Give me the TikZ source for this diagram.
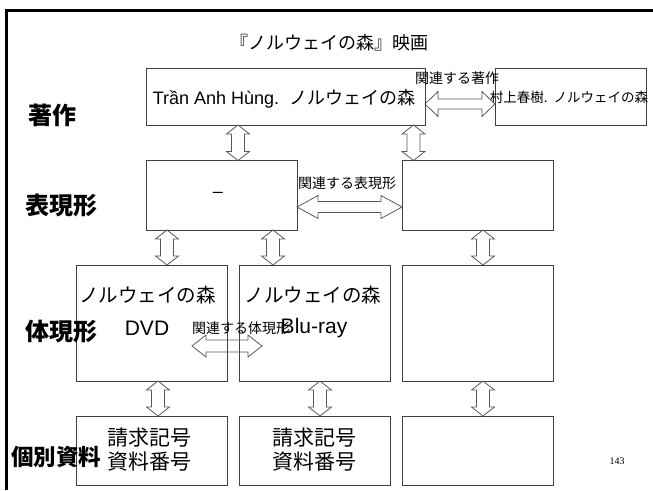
\documentclass[tikz,border=0pt]{standalone}
\usepackage{fontspec}
\setmainfont{Liberation Sans}
\newfontfamily\jp{Noto Sans CJK JP}
\newfontfamily\numserif{Liberation Serif}
\usetikzlibrary{calc}
% #1 start, #2 end, #3 head length, #4 head half width, #5 shaft half width
\newcommand\blockarr[5]{%
\draw[barrow] (#1) -- ($(#1)!#3!(#2)!#4!90:(#2)$) -- ($(#1)!#3!(#2)!#5!90:(#2)$)
 -- ($(#2)!#3!(#1)!#5!-90:(#1)$) -- ($(#2)!#3!(#1)!#4!-90:(#1)$) -- (#2)
 -- ($(#2)!#3!(#1)!#4!90:(#1)$) -- ($(#2)!#3!(#1)!#5!90:(#1)$)
 -- ($(#1)!#3!(#2)!#5!-90:(#2)$) -- ($(#1)!#3!(#2)!#4!-90:(#2)$) -- cycle;}
\begin{document}
\begin{tikzpicture}[x=1pt,y=-1pt,
  box/.style={draw=black!75, line width=0.8pt, inner sep=0pt, outer sep=0pt, anchor=north west},
  barrow/.style={draw=black!65, line width=0.8pt, line join=miter},
  txt/.style={inner sep=0pt, font=\jp\fontsize{18}{21}\selectfont},
  mtxt/.style={inner sep=0pt, font=\jp\fontsize{19.5}{23}\selectfont},
  lat/.style={inner sep=0pt, font=\fontsize{21}{24}\selectfont},
  small/.style={inner sep=0pt, font=\jp\fontsize{14}{16}\selectfont},
  side/.style={inner sep=0pt, font=\jp\bfseries\fontsize{24}{28}\selectfont},
  frame/.style={line width=3pt, draw=black}]
\useasboundingbox (0,0) rectangle (653,490);
\draw[frame] (6.5,490) -- (6.5,10.5) -- (653,10.5);

% boxes
\node[box, minimum width=279pt, minimum height=57pt] (w1) at (146,68) {};
\node[box, minimum width=151pt, minimum height=57pt] (w2) at (495,68) {};
\node[box, minimum width=151pt, minimum height=69.5pt] (e1) at (146,160.5) {};
\node[box, minimum width=151pt, minimum height=69.5pt] (e2) at (402,160.5) {};
\node[box, minimum width=151pt, minimum height=116pt] (m1) at (76,265) {};
\node[box, minimum width=151pt, minimum height=116pt] (m2) at (239,265) {};
\node[box, minimum width=151pt, minimum height=116pt] (m3) at (402,265) {};
\node[box, minimum width=151pt, minimum height=69pt] (i1) at (76,416) {};
\node[box, minimum width=151pt, minimum height=69pt] (i2) at (239,416) {};
\node[box, minimum width=151pt, minimum height=69pt] (i3) at (402,416) {};

% texts
\node[txt] (title) at (329,43) {『ノルウェイの森』映画};
\node[txt] (w1t) at (284,99) {\fontspec{Liberation Sans}Trần Anh Hùng.\ \ \jp ノルウェイの森};
\node[small, font=\jp\fontsize{13.5}{15}\selectfont] (w2t) at (569,97) {村上春樹.\ \ ノルウェイの森};
\node[small] (rw) at (457,78) {関連する著作};
\node[txt] (e1t) at (218,195) {\fontspec{Liberation Sans}–};
\node[small] (re) at (347,183) {関連する表現形};
\node[mtxt] (m1a) at (147.5,295) {ノルウェイの森};
\node[lat] (m1b) at (147,328) {DVD};
\node[mtxt] (m2a) at (313,295) {ノルウェイの森};
\node[lat] (m2b) at (314,328) {Blu-ray};
\node[small] (rm) at (241,328) {関連する体現形};
\node[txt, font=\jp\fontsize{21}{24}\selectfont, align=center] (i1t) at (149,450) {請求記号\\資料番号};
\node[txt, font=\jp\fontsize{21}{24}\selectfont, align=center] (i2t) at (314,450) {請求記号\\資料番号};
\node[side] (l1) at (52,115) {著作};
\node[side] (l2) at (61,205) {表現形};
\node[side] (l3) at (61,332) {体現形};
\node[side, font=\jp\bfseries\fontsize{22.5}{26}\selectfont] (l4) at (56,457) {個別資料};
\node[inner sep=0pt, font=\numserif\fontsize{10}{12}\selectfont] (pg) at (617,461) {143};

% arrow positions
\coordinate (xa) at (238,0);
\coordinate (xb) at (413.5,0);
\coordinate (xc) at (167,0);
\coordinate (xd) at (273,0);
\coordinate (xe) at (483,0);
\coordinate (xf) at (158,0);
\coordinate (xg) at (320,0);
\coordinate (yh1) at (0,104);
\coordinate (yh2) at (0,207);

\coordinate (a1s) at (w1.south -| xa); \coordinate (a1e) at (e1.north -| xa);
\coordinate (a2s) at (w1.south -| xb); \coordinate (a2e) at (e2.north -| xb);
\coordinate (a3s) at (e1.south -| xc); \coordinate (a3e) at (m1.north -| xc);
\coordinate (a4s) at (e1.south -| xd); \coordinate (a4e) at (m2.north -| xd);
\coordinate (a5s) at (e2.south -| xe); \coordinate (a5e) at (m3.north -| xe);
\coordinate (a6s) at (m1.south -| xf); \coordinate (a6e) at (i1.north -| xf);
\coordinate (a7s) at (m2.south -| xg); \coordinate (a7e) at (i2.north -| xg);
\coordinate (a8s) at (m3.south -| xe); \coordinate (a8e) at (i3.north -| xe);
\coordinate (h1s) at (w1.east |- yh1); \coordinate (h1e) at (w2.west |- yh1);
\coordinate (h2s) at (e1.east |- yh2); \coordinate (h2e) at (e2.west |- yh2);
\coordinate (h3s) at (192,346); \coordinate (h3e) at (262,346);

\blockarr{a1s}{a1e}{9pt}{11.5pt}{6.5pt}
\blockarr{a2s}{a2e}{9pt}{11.5pt}{6.5pt}
\blockarr{a3s}{a3e}{9pt}{11.5pt}{6.5pt}
\blockarr{a4s}{a4e}{9pt}{11.5pt}{6.5pt}
\blockarr{a5s}{a5e}{9pt}{11.5pt}{6.5pt}
\blockarr{a6s}{a6e}{9pt}{11.5pt}{6.5pt}
\blockarr{a7s}{a7e}{9pt}{11.5pt}{6.5pt}
\blockarr{a8s}{a8e}{9pt}{11.5pt}{6.5pt}
\blockarr{h1s}{h1e}{13pt}{12.5pt}{5pt}
\blockarr{h2s}{h2e}{21pt}{11.5pt}{5.5pt}
\blockarr{h3s}{h3e}{14pt}{11pt}{6pt}
\end{tikzpicture}
\end{document}
